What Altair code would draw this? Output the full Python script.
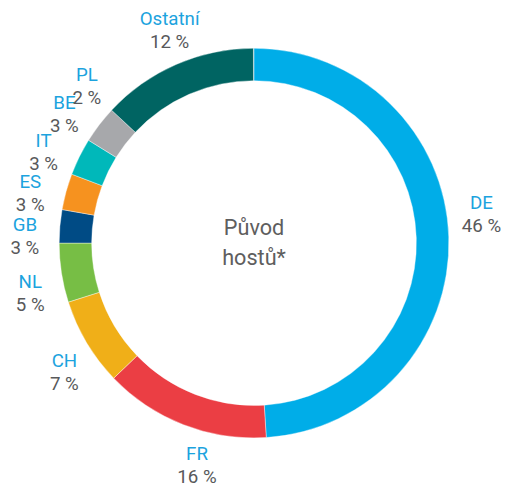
import altair as alt
import pandas as pd

# label data (stated shares)
categories = ["DE", "FR", "CH", "NL", "GB", "ES", "IT", "BE", "PL", "Ostatní"]
label_pct = [46, 16, 7, 5, 3, 3, 3, 3, 2, 12]

# ring segments as drawn in the picture
arc_categories = ["DE", "FR", "CH", "NL", "GB", "ES", "IT", "BE", "Ostatní"]
arc_share = [49.0, 13.8, 7.3, 4.9, 2.75, 3.0, 3.1, 3.1, 13.0]
arc_colors = ["#00ADE8", "#EB3E44", "#F0AF18", "#77BE45", "#004B85",
              "#F6921F", "#00B8BA", "#A7A8AB", "#006462"]

center_lines = ["Původ", "hostů*"]

W, H = 492, 470
FONT = "Roboto"

arcs = pd.DataFrame({"cat": arc_categories, "share": arc_share,
                     "ord": list(range(len(arc_categories)))})
labels = pd.DataFrame({
    "cat": categories,
    "pct": label_pct,
    "pct_txt": [f"{v} %" for v in label_pct],
    "ord": list(range(len(categories))),
})
center = pd.DataFrame({"line": center_lines, "i": list(range(len(center_lines)))})

ring = alt.Chart(arcs).mark_arc(innerRadius=165, outerRadius=198,
                                stroke="white", strokeWidth=0.4).encode(
    theta=alt.Theta("share:Q", stack=True),
    order=alt.Order("ord:Q"),
    color=alt.Color("cat:N", scale=alt.Scale(domain=arc_categories, range=arc_colors),
                    legend=None),
)

base_lbl = alt.Chart(labels).encode(
    theta=alt.Theta("pct:Q", stack=True),
    order=alt.Order("ord:Q"),
)
names = base_lbl.mark_text(radius=233, dy=-11, font=FONT, fontSize=19,
                           color="#1CA3DE", align="center", baseline="middle").encode(
    text="cat:N")
pcts = base_lbl.mark_text(radius=233, dy=12, font=FONT, fontSize=19,
                          color="#58595B", align="center", baseline="middle").encode(
    text="pct_txt:N")

mid = alt.Chart(center).mark_text(font=FONT, fontSize=22, color="#5E5E5E",
                                  align="center", baseline="middle").encode(
    x=alt.value(W / 2),
    y=alt.Y("i:Q", scale=alt.Scale(domain=[0, 1], range=[H / 2 - 15, H / 2 + 15]),
            axis=None),
    text="line:N",
)

chart = alt.layer(ring, names, pcts, mid).properties(
    width=W, height=H,
    padding={"left": 4, "top": 0, "right": 7, "bottom": 9},
    autosize=alt.AutoSizeParams(type="none"),
).configure_view(stroke=None)

chart.save("out.html", embed_options={"renderer": "svg", "actions": False})
